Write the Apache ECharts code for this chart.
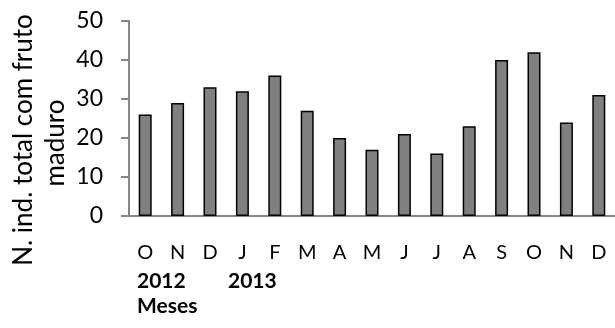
<!DOCTYPE html>
<html>
<head>
<meta charset="utf-8">
<script src="https://cdn.jsdelivr.net/npm/echarts@6/dist/echarts.min.js"></script>
<style>
  html, body { margin: 0; padding: 0; background: #fff; }
  #chart { width: 615px; height: 328px; }
</style>
</head>
<body>
<div id="chart"></div>
<script>
// Monthly counts of individuals with ripe fruit, Oct 2012 – Dec 2013
var months = ['O', 'N', 'D', 'J', 'F', 'M', 'A', 'M', 'J', 'J', 'A', 'S', 'O', 'N', 'D'];
var counts = [26, 29, 33, 32, 36, 27, 20, 17, 21, 16, 23, 40, 42, 24, 31];
var yTicks = { min: 0, max: 50, step: 10 };
var yTitleLines = ['N. ind. total com fruto', 'maduro'];
var yearLabels = ['2012', '2013'];
var xTitle = 'Meses';

var FONT = 'Lato, "Open Sans", sans-serif';
var AXIS_GRAY = '#868686';

var chart = echarts.init(document.getElementById('chart'), null, { renderer: 'canvas' });

chart.setOption({
  animation: false,
  backgroundColor: '#fff',
  grid: { left: 129, top: 21, right: -4, bottom: 112, containLabel: false },
  xAxis: {
    type: 'category',
    data: months,
    boundaryGap: true,
    axisLine: { lineStyle: { color: AXIS_GRAY, width: 2 } },
    axisTick: { length: 6, lineStyle: { color: AXIS_GRAY, width: 2 } },
    axisLabel: { color: '#000', fontFamily: FONT, fontSize: 20, margin: 27, interval: 0 }
  },
  yAxis: {
    type: 'value',
    min: yTicks.min,
    max: yTicks.max,
    interval: yTicks.step,
    splitLine: { show: false },
    axisLine: { show: true, lineStyle: { color: AXIS_GRAY, width: 2 } },
    axisTick: { show: true, length: 8, lineStyle: { color: AXIS_GRAY, width: 2 } },
    axisLabel: { color: '#000', fontFamily: FONT, fontSize: 23, margin: 26 }
  },
  series: [{
    type: 'bar',
    data: counts,
    barWidth: 13,
    itemStyle: { color: '#808080', borderColor: '#000', borderWidth: 1.5 }
  }],
  graphic: [
    {
      type: 'text', x: 24, y: 140, rotation: Math.PI / 2,
      style: { text: yTitleLines[0], fill: '#000', font: '26px ' + FONT, align: 'center', verticalAlign: 'middle' }
    },
    {
      type: 'text', x: 56, y: 143, rotation: Math.PI / 2,
      style: { text: yTitleLines[1], fill: '#000', font: '26px ' + FONT, align: 'center', verticalAlign: 'middle' }
    },
    {
      type: 'text', x: 137, y: 281,
      style: { text: yearLabels[0], fill: '#000', font: 'bold 21px ' + FONT, align: 'left', verticalAlign: 'middle' }
    },
    {
      type: 'text', x: 228, y: 281,
      style: { text: yearLabels[1], fill: '#000', font: 'bold 21px ' + FONT, align: 'left', verticalAlign: 'middle' }
    },
    {
      type: 'text', x: 137, y: 306,
      style: { text: xTitle, fill: '#000', font: 'bold 21px ' + FONT, align: 'left', verticalAlign: 'middle' }
    }
  ]
});
</script>
</body>
</html>
